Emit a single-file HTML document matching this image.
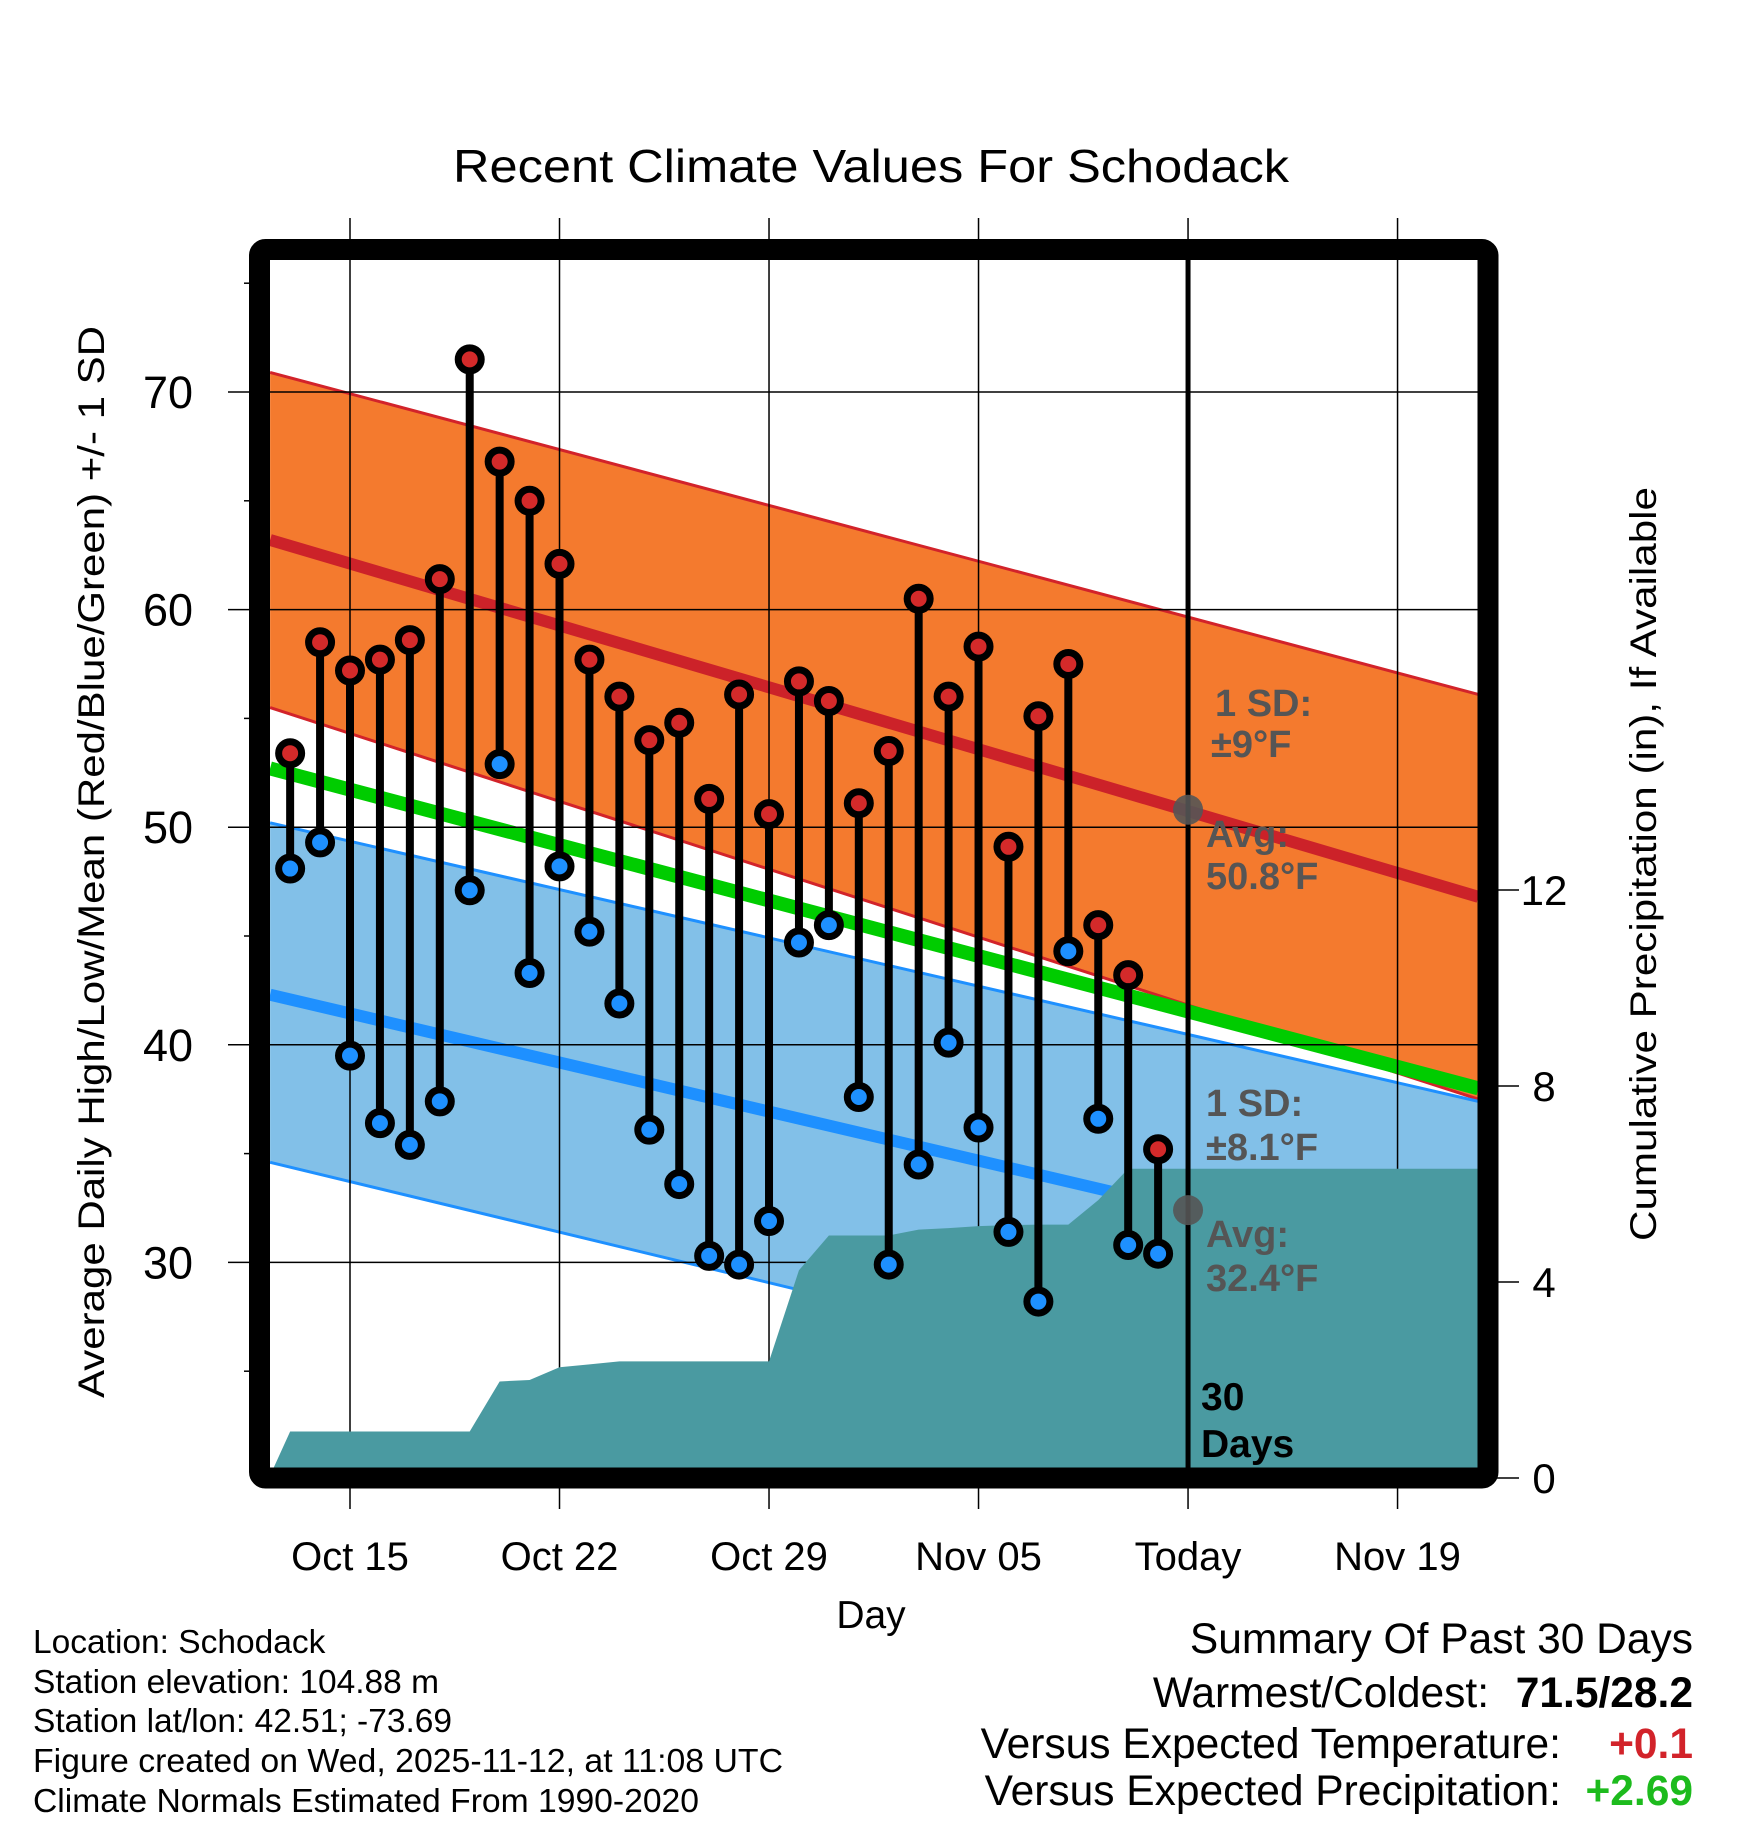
<!DOCTYPE html>
<html><head><meta charset="utf-8"><style>
html,body{margin:0;padding:0;background:#fff;}
svg{display:block;font-family:"Liberation Sans",Arial,sans-serif;}
</style></head><body>
<svg id="chart" width="1748" height="1828" viewBox="0 0 1748 1828" xmlns="http://www.w3.org/2000/svg">
<defs><clipPath id="plotclip"><rect x="269" y="259" width="1210" height="1219"/></clipPath></defs>
<text x="871" y="182" font-size="46" text-anchor="middle" textLength="836" lengthAdjust="spacingAndGlyphs">Recent Climate Values For Schodack</text>
<g id="grid"></g>
<g id="plot" clip-path="url(#plotclip)"></g>
<g id="axes"></g>
<text transform="translate(104,862) rotate(-90)" font-size="37" text-anchor="middle" textLength="1072" lengthAdjust="spacingAndGlyphs">Average Daily High/Low/Mean (Red/Blue/Green) +/- 1 SD</text>
<text transform="translate(1656,864) rotate(-90)" font-size="37" text-anchor="middle" textLength="754" lengthAdjust="spacingAndGlyphs">Cumulative Precipitation (in), If Available</text>
<text x="871" y="1628" font-size="39" text-anchor="middle">Day</text>
<g font-size="33.5">
<text x="33" y="1653">Location: Schodack</text>
<text x="33" y="1693">Station elevation: 104.88 m</text>
<text x="33" y="1732">Station lat/lon: 42.51; -73.69</text>
<text x="33" y="1772" textLength="750" lengthAdjust="spacingAndGlyphs">Figure created on Wed, 2025-11-12, at 11:08 UTC</text>
<text x="33" y="1812" textLength="666" lengthAdjust="spacingAndGlyphs">Climate Normals Estimated From 1990-2020</text>
</g>
<g font-size="42.5">
<text x="1693" y="1653" text-anchor="end">Summary Of Past 30 Days</text>
<text x="1489" y="1707" text-anchor="end">Warmest/Coldest:</text>
<text x="1693" y="1707" text-anchor="end" font-weight="bold">71.5/28.2</text>
<text x="1561" y="1758" text-anchor="end">Versus Expected Temperature:</text>
<text x="1693" y="1758" text-anchor="end" font-weight="bold" fill="#D2232A">+0.1</text>
<text x="1561" y="1805" text-anchor="end">Versus Expected Precipitation:</text>
<text x="1693" y="1805" text-anchor="end" font-weight="bold" fill="#1DBB1D">+2.69</text>
</g>
</svg>
<script>
const dates = ['Oct 13','Oct 14','Oct 15','Oct 16','Oct 17','Oct 18','Oct 19','Oct 20','Oct 21','Oct 22','Oct 23','Oct 24','Oct 25','Oct 26','Oct 27','Oct 28','Oct 29','Oct 30','Oct 31','Nov 1','Nov 2','Nov 3','Nov 4','Nov 5','Nov 6','Nov 7','Nov 8','Nov 9','Nov 10','Nov 11'];
const dayIdx = [-2,-1,0,1,2,3,4,5,6,7,8,9,10,11,12,13,14,15,16,17,18,19,20,21,22,23,24,25,26,27];
const highs = [53.4,58.5,57.2,57.7,58.6,61.4,71.5,66.8,65.0,62.1,57.7,56.0,54.0,54.8,51.3,56.1,50.6,56.7,55.8,51.1,53.5,60.5,56.0,58.3,49.1,55.1,57.5,45.5,43.2,35.2];
const lows = [48.1,49.3,39.5,36.4,35.4,37.4,47.1,52.9,43.3,48.2,45.2,41.9,36.1,33.6,30.3,29.9,31.9,44.7,45.5,37.6,29.9,34.5,40.1,36.2,31.4,28.2,44.3,36.6,30.8,30.4];
const precipCum = [0.95,0.95,0.95,0.95,0.95,0.95,0.95,1.97,2.0,2.26,2.32,2.38,2.38,2.38,2.38,2.38,2.38,4.24,4.95,4.95,4.95,5.07,5.1,5.14,5.16,5.17,5.17,5.67,6.31,6.31];
const normDays = [-2.67,37.7];
const normHighUpper = [70.9,56.1];
const normHighMean = [63.2,46.8];
const normHighLower = [55.5,37.5];
const normLowUpper = [50.2,37.4];
const normLowMean = [42.3,29.3];
const normLowLower = [34.6,21.2];
const normMean = [52.7,38.0];
const tempTicks = [30,40,50,60,70];
const tempMinor = [25,35,45,55,65,75];
const precipTicks = [0,4,8,12];
const xTickDays = [0,7,14,21,28,35];
const xTickLabels = ['Oct 15','Oct 22','Oct 29','Nov 05','Today','Nov 19'];
const todayDay = 28;
const todayHigh = 50.8, todayLow = 32.4;

const NS='http://www.w3.org/2000/svg';
const X = d => 350 + 29.93*d;
const Y = t => 392 + (70-t)*21.76;
const YP = p => 1478 - 49*p;
const XL = 269, XR = 1479;
function mk(tag, attrs, parent){const e=document.createElementNS(NS,tag);for(const k in attrs)e.setAttribute(k,attrs[k]);parent.appendChild(e);return e;}
const plot=document.getElementById('plot'), grid=document.getElementById('grid'), axes=document.getElementById('axes');

function band(up,lo,fill){
  const p=`M${X(normDays[0])},${Y(up[0])} L${X(normDays[1])},${Y(up[1])} L${X(normDays[1])},${Y(lo[1])} L${X(normDays[0])},${Y(lo[0])} Z`;
  return mk('path',{d:p,fill:fill},plot);
}
function nline(v,color,w){
  return mk('line',{x1:X(normDays[0]),y1:Y(v[0]),x2:X(normDays[1]),y2:Y(v[1]),stroke:color,'stroke-width':w},plot);
}
let e;
e=band(normHighUpper,normHighLower,'#F47A2E');


e=band(normLowUpper,normLowLower,'#82C0E8');


e=nline(normHighUpper,'#D2232A',3);


e=nline(normHighLower,'#D2232A',3);


e=nline(normLowUpper,'#1E90FF',3);


e=nline(normLowLower,'#1E90FF',3);



xTickDays.forEach((d,i)=>{
  const g=mk('line',{x1:X(d),y1:218,x2:X(d),y2:1509,stroke:'#000','stroke-width':1.5},grid);
  
  
  const t=mk('text',{x:X(d),y:1570,'font-size':40,'text-anchor':'middle'},axes);
  t.textContent=xTickLabels[i];
  
  
});
tempTicks.forEach(v=>{
  const g=mk('line',{x1:228,y1:Y(v),x2:1488,y2:Y(v),stroke:'#000','stroke-width':1.5},grid);
  
  
  const t=mk('text',{x:193,y:Y(v)+16,'font-size':45,'text-anchor':'end'},axes);
  t.textContent=v;
  
  
});
tempMinor.forEach(v=>{
  const g=mk('line',{x1:244,y1:Y(v),x2:252,y2:Y(v),stroke:'#000','stroke-width':1.5},axes);
  
  
});
precipTicks.forEach(v=>{
  const g=mk('line',{x1:1490,y1:YP(v),x2:1519,y2:YP(v),stroke:'#000','stroke-width':1.5},axes);
  
  
  const t=mk('text',{x:1544,y:YP(v)+15,'font-size':42,'text-anchor':'middle'},axes);
  t.textContent=v;
  
  
});
e=nline(normHighMean,'#CC2229',12);


e=nline(normLowMean,'#1E90FF',12);


e=nline(normMean,'#00CC00',14);


document.getElementById('chart').insertBefore(grid, axes);

const precipLayer=mk('g',{},document.getElementById('chart'));


precipLayer.setAttribute('clip-path','url(#plotclip)');
let pd=`M${XL},${YP(0)} L${XL},${YP(0)}`;
dayIdx.forEach((d,i)=>{pd+=` L${X(d)},${YP(precipCum[i])}`;});
pd+=` L${XR},${YP(precipCum[precipCum.length-1])} L${XR},${YP(0)} Z`;
e=mk('path',{d:pd,fill:'#4A9AA1'},precipLayer);


e=mk('line',{x1:X(todayDay),y1:259,x2:X(todayDay),y2:1478,stroke:'#000','stroke-width':5},precipLayer);


e=mk('circle',{cx:X(todayDay),cy:Y(todayHigh),r:15,fill:'#555','fill-opacity':0.9},precipLayer);


e=mk('circle',{cx:X(todayDay),cy:Y(todayLow),r:15,fill:'#555','fill-opacity':0.9},precipLayer);



const chart=document.getElementById('chart');
e=mk('rect',{x:259.5,y:249.5,width:1228.5,height:1228.5,fill:'none',stroke:'#000','stroke-width':21,rx:6},chart);



const marks=mk('g',{},chart);


dayIdx.forEach((d,i)=>{
  const s=mk('line',{x1:X(d),y1:Y(highs[i]),x2:X(d),y2:Y(lows[i]),stroke:'#000','stroke-width':8},marks);
  
  
});
dayIdx.forEach((d,i)=>{
  const h=mk('circle',{cx:X(d),cy:Y(highs[i]),r:11.5,fill:'#D42A2A',stroke:'#000','stroke-width':7},marks);
  
  
  const l=mk('circle',{cx:X(d),cy:Y(lows[i]),r:11.5,fill:'#1E90FF',stroke:'#000','stroke-width':7},marks);
  
  
});

const ann=mk('g',{'font-size':38,'font-weight':'bold',fill:'#555'},chart);


const annText=[['1 SD:',1215,716,'high-sd-label'],['±9°F',1211,757,'high-sd-value'],['Avg:',1206,847,'high-avg-label'],['50.8°F',1206,889,'high-avg-value'],['1 SD:',1206,1116,'low-sd-label'],['±8.1°F',1206,1160,'low-sd-value'],['Avg:',1206,1247,'low-avg-label'],['32.4°F',1206,1291,'low-avg-value']];
annText.forEach(a=>{const t=mk('text',{x:a[1],y:a[2]},ann);t.textContent=a[0];
  
  });
e=mk('text',{x:1201,y:1410,'font-size':39,'font-weight':'bold',fill:'#000'},chart);e.textContent='30';


e=mk('text',{x:1201,y:1457,'font-size':39,'font-weight':'bold',fill:'#000'},chart);e.textContent='Days';


</script>
</body></html>
